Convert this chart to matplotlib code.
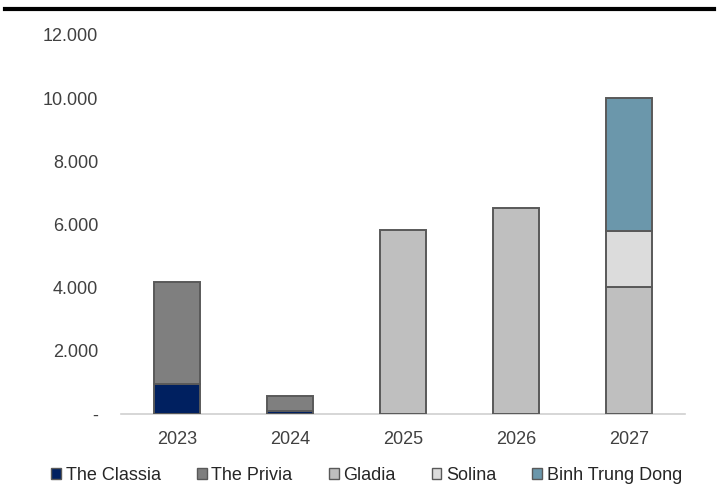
import matplotlib.pyplot as plt
import numpy as np
from matplotlib.lines import Line2D
from matplotlib.ticker import FuncFormatter

plt.rcParams['font.family'] = ['Liberation Sans', 'DejaVu Sans']

# Data (units)
years = ["2023", "2024", "2025", "2026", "2027"]
the_classia = [950, 100, 0, 0, 0]
the_privia = [3230, 470, 0, 0, 0]
gladia = [0, 0, 5830, 6520, 4030]
solina = [0, 0, 0, 0, 1770]
binh_trung_dong = [0, 0, 0, 0, 4200]

series = [
    ("The Classia", the_classia, "#002060"),
    ("The Privia", the_privia, "#7f7f7f"),
    ("Gladia", gladia, "#bfbfbf"),
    ("Solina", solina, "#dcdcdc"),
    ("Binh Trung Dong", binh_trung_dong, "#6b97ab"),
]

fig = plt.figure(figsize=(7.19, 4.86), dpi=100)
ax = fig.add_axes([0.1676, 0.148, 0.7858, 0.78])

x = np.arange(len(years))
bottom = np.zeros(len(years))
for name, vals, col in series:
    vals = np.array(vals, dtype=float)
    mask = vals > 0
    ax.bar(x[mask], vals[mask], 0.41, bottom=bottom[mask], color=col,
           edgecolor="#595959", linewidth=1.4, label=name, zorder=3)
    bottom += vals

ax.set_xlim(-0.5, len(years) - 0.5)
ax.set_ylim(0, 12000)
ax.set_yticks(np.arange(0, 12001, 2000))
ax.yaxis.set_major_formatter(FuncFormatter(
    lambda v, p: "-" if v == 0 else f"{int(v):,}".replace(",", ".")))
ax.set_xticks(x)
ax.set_xticklabels(years)

for s in ["top", "right", "left"]:
    ax.spines[s].set_visible(False)
ax.spines["bottom"].set_color("#d0d0d0")
ax.spines["bottom"].set_linewidth(1.2)
ax.tick_params(axis="both", length=0, labelsize=13, colors="#404040")
ax.tick_params(axis="y", pad=16)
ax.tick_params(axis="x", pad=12)

# top rule
fig.add_artist(Line2D([0.007, 0.993], [0.982, 0.982], color="black",
                      linewidth=3, transform=fig.transFigure))

handles = [plt.Rectangle((0, 0), 1, 1, facecolor=c, edgecolor="#595959", linewidth=1)
           for _, _, c in series]
fig.legend(handles, [s[0] for s in series], loc="center", bbox_to_anchor=(0.51, 0.022),
           ncol=5, frameon=False, fontsize=13, handlelength=0.55, handleheight=0.55,
           handletextpad=0.25, columnspacing=2.0, labelcolor="#262626")

fig.savefig("out.png", dpi=100)
